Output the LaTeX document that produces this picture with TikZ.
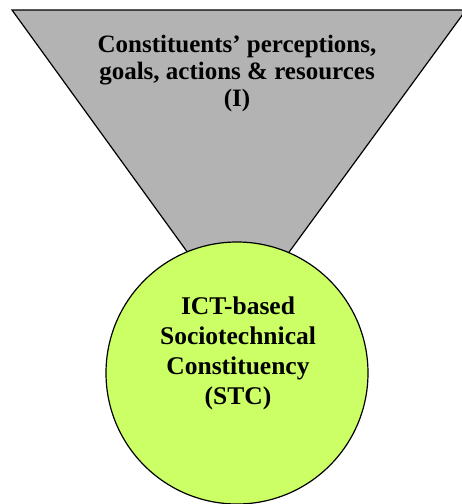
\documentclass[tikz,border=0pt]{standalone}
\usepackage{fontspec}
\setmainfont{Liberation Serif}
\definecolor{funnelgray}{RGB}{179,179,179}
\definecolor{stcgreen}{RGB}{204,255,102}
\begin{document}
\begin{tikzpicture}[x=1pt,y=-1pt,
  label/.style={font=\bfseries\fontsize{25}{27}\selectfont, align=center, inner sep=0pt},
  outline/.style={draw=black, line width=1.2pt, line join=miter}]
\useasboundingbox (0,0) rectangle (462,504);
% inverted triangle (input funnel)
\coordinate (tl) at (12,10);
\coordinate (tr) at (466,10);
\coordinate (apex) at (238,322);
\filldraw[outline, fill=funnelgray] (tl) -- (tr) -- (apex) -- cycle;
\node[label] (inputs) at (237,73) {Constituents’ perceptions,\\goals, actions \& resources\\(I)};
% circle (constituency)
\node[outline, circle, fill=stcgreen, minimum size=262pt, inner sep=0pt] (stc) at (237,373) {};
\node[label, font=\bfseries\fontsize{25.5}{30}\selectfont] (stctext) at (238,353) {ICT-based\\Sociotechnical\\Constituency\\(STC)};
\end{tikzpicture}
\end{document}
